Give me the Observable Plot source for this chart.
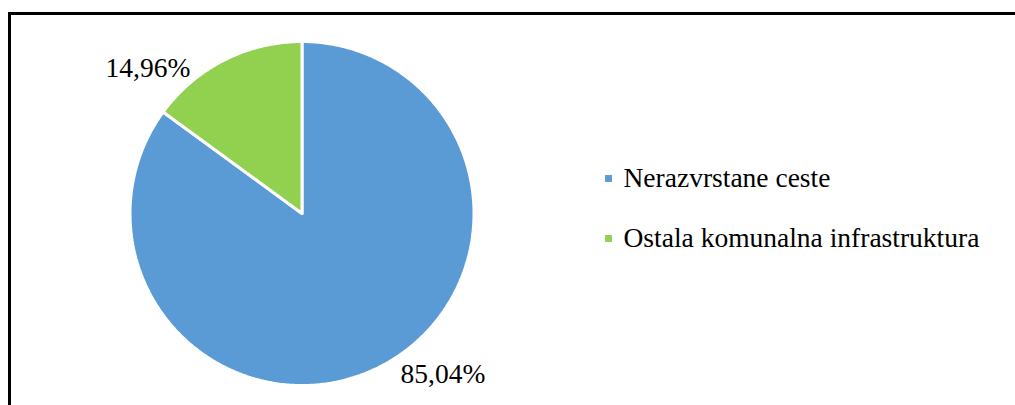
<!DOCTYPE html>
<html>
<head>
<meta charset="utf-8">
<script src="https://cdn.jsdelivr.net/npm/d3@7"></script>
<script src="https://cdn.jsdelivr.net/npm/@observablehq/plot@0.6"></script>
<style>
  html, body { margin: 0; padding: 0; background: #fff; overflow: hidden; }
  #frame { position: absolute; left: 8px; top: 12px; width: 1020px; height: 420px;
           border: 3px solid #000; box-sizing: border-box; }
  #chart { position: absolute; left: 0; top: 0; }
  #chart svg text { font-family: "Times New Roman", "Liberation Serif", "DejaVu Serif", serif !important; }
</style>
</head>
<body>
<div id="frame"></div>
<div id="chart"></div>
<script>
// ---- data ----
const categories = ["Nerazvrstane ceste", "Ostala komunalna infrastruktura"];
const values = [85.04, 14.96];
const valueLabels = ["85,04%", "14,96%"];
const colors = ["#5B9BD5", "#92D050"];

// ---- layout (pixels) ----
const W = 1015, H = 405;
const cx = 301.5, cy = 213, R = 172;
const labelPos = [[442.5, 382], [147.5, 76]];  // label centres / baselines
const legendX = 608, legendTextX = 623, legendY = [186, 246];
const font = "Times New Roman, Liberation Serif, DejaVu Serif, serif";

const arcs = d3.pie().sort(null)(values);
const slices = arcs.map((a, i) => {
  const n = Math.max(2, Math.ceil((a.endAngle - a.startAngle) / 0.01));
  const pts = [{x: cx, y: cy}];
  for (let k = 0; k <= n; k++) {
    const t = a.startAngle + (a.endAngle - a.startAngle) * k / n;
    pts.push({x: cx + R * Math.sin(t), y: cy - R * Math.cos(t)});
  }
  pts.push({x: cx, y: cy});
  return pts;
});

const labels = valueLabels.map((t, i) => ({text: t, x: labelPos[i][0], y: labelPos[i][1]}));
const legend = categories.map((c, i) => ({name: c, color: colors[i], y: legendY[i]}));

const plot = Plot.plot({
  width: W, height: H,
  margin: 0,
  x: {domain: [0, W], range: [0, W], axis: null},
  y: {domain: [0, H], range: [0, H], axis: null},
  style: {background: "transparent", fontFamily: font},
  marks: [
    ...slices.map((pts, i) => Plot.line(pts, {x: "x", y: "y", fill: colors[i], stroke: "#fff", strokeWidth: 3, strokeLinejoin: "miter"})),
    Plot.text(labels, {x: "x", y: "y", text: "text", textAnchor: "middle", lineAnchor: "bottom",
      fontFamily: font, fontSize: 27.5, fill: "#000"}),
    Plot.dot(legend, {x: legendX, y: d => d.y - 8, symbol: "square", r: 3.9, fill: "color", stroke: null}),
    Plot.text(legend, {x: legendTextX, y: "y", text: "name", textAnchor: "start", lineAnchor: "bottom",
      fontFamily: font, fontSize: 27.5, fill: "#000"})
  ]
});
document.getElementById("chart").appendChild(plot);
</script>
</body>
</html>
